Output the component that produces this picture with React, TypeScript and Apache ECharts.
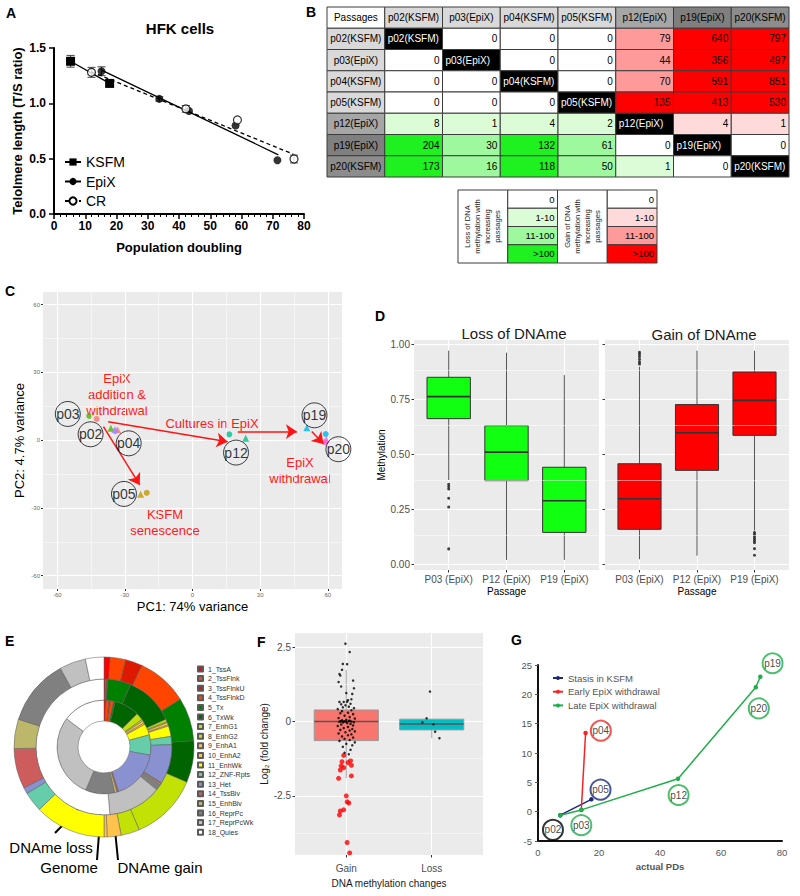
import React, { useEffect, useRef } from 'react';
import * as echarts from 'echarts';

const FONT = '"Liberation Sans", Arial, Helvetica, sans-serif';

// ===== Panel A: telomere length vs population doubling =====
const ksfmPoints = [[5.3, 1.38], [17.8, 1.18]];
const epixPoints = [[15.2, 1.29], [33.7, 1.04], [43.2, 0.93], [58.1, 0.8], [71.5, 0.485]];
const crPoints = [[12.0, 1.28], [42.2, 0.95], [58.7, 0.85], [76.8, 0.497]];
const epixFit = [[15.2, 1.3], [71.8, 0.535]];
const crFit = [[12.0, 1.285], [76.6, 0.54]];
const telomereErrors = [[5.3, 1.38, 0.053], [12.0, 1.28, 0.045], [15.2, 1.29, 0.04], [33.7, 1.04, 0.02], [42.2, 0.95, 0.03], [76.8, 0.497, 0.035]];

// ===== Panel B: DMR count table =====
const passages = ['p02(KSFM)', 'p03(EpiX)', 'p04(KSFM)', 'p05(KSFM)', 'p12(EpiX)', 'p19(EpiX)', 'p20(KSFM)'];
const dmrCounts: (number | null)[][] = [
  [null, 0, 0, 0, 79, 640, 797],
  [0, null, 0, 0, 44, 356, 497],
  [0, 0, null, 0, 70, 591, 851],
  [0, 0, 0, null, 135, 413, 530],
  [8, 1, 4, 2, null, 4, 1],
  [204, 30, 132, 61, 0, null, 0],
  [173, 16, 118, 50, 1, 0, null],
];
const binLabels = ['0', '1-10', '11-100', '>100'];
const lossLegendTitle = 'Loss of DNA\nmethylation with\nincreasing\npassages';
const gainLegendTitle = 'Gain of DNA\nmethylation with\nincreasing\npassages';

// ===== Panel C: PCA =====
const pcaCircles: [string, number, number][] = [
  ['p03', -45.8, 10.7], ['p02', -42.5, 9.4], ['p04', -34.3, 4.0], ['p05', -20.3, -23.3],
  ['p12', 16.3, 2.6], ['p19', 59.1, 2.7], ['p20', 58.8, -0.9],
];
const pcaTriangles: [string, number, number][] = [
  ['p02', -33.2, 4.6], ['p03', -36.2, 5.3], ['p04', -34.4, 4.7], ['p05', -23.0, -24.0],
  ['p12', 23.6, 0.8], ['p19', 50.7, 5.5], ['p20', 59.3, 0.3],
];
const pcaLabels: [string, number, number][] = [
  ['p03', -55.3, 11.6], ['p02', -45.2, 2.6], ['p04', -28.3, -1.4], ['p05', -30.4, -23.8],
  ['p12', 19.3, -5.5], ['p19', 54.1, 11.0], ['p20', 64.7, -4.0],
];
const pcaArrows = [
  [[-39.5, 6.0], [-23.4, -19.8]],
  [[-37.4, 8.2], [15.6, -0.7]],
  [[20.1, 3.8], [46.3, 3.8]],
  [[52.9, 3.8], [58.1, -1.7]],
];
const pcaTicks = [-60, -30, 0, 30, 60];
const pcaMinor = [-45, -15, 15, 45];

// ===== Panel D: methylation boxplots =====
const dLabels = ['P03 (EpiX)', 'P12 (EpiX)', 'P19 (EpiX)'];
const lossBoxes = [[1, 0.383, 0.662, 0.762, 0.85, 0.971], [2, 0.02, 0.38, 0.51, 0.63, 0.962], [3, 0.02, 0.145, 0.289, 0.441, 0.86]];
const lossOutliers = [[1, 0.364], [1, 0.353], [1, 0.342], [1, 0.3], [1, 0.26], [1, 0.07]];
const gainBoxes = [[1, 0.023, 0.159, 0.298, 0.457, 0.898], [2, 0.039, 0.427, 0.598, 0.726, 0.971], [3, 0.153, 0.586, 0.745, 0.874, 0.971]];
const gainOutliers = [[1, 0.964], [1, 0.955], [1, 0.944], [1, 0.932], [1, 0.92], [1, 0.91], [3, 0.144], [3, 0.135], [3, 0.125], [3, 0.116], [3, 0.107], [3, 0.098], [3, 0.071], [3, 0.041]];
const dTicks = [0, 0.25, 0.5, 0.75, 1];
const dMinor = [0.125, 0.375, 0.625, 0.875];

// ===== Panel E: chromatin states =====
const stateNames = ['1_TssA', '2_TssFlnk', '3_TssFlnkU', '4_TssFlnkD', '5_Tx', '6_TxWk', '7_EnhG1', '8_EnhG2', '9_EnhA1', '10_EnhA2', '11_EnhWk', '12_ZNF-Rpts', '13_Het', '14_TssBiv', '15_EnhBiv', '16_ReprPc', '17_ReprPcWk', '18_Quies'];
const gainShares = [4, 10, 11, 33, 28, 27, 44, 12, 9, 2, 46, 13, 4, 26, 19, 43, 17, 12];
const genomeShares = [1, 1, 0.5, 0.5, 20, 43, 2, 1, 2, 1, 9, 7, 34, 1, 1, 5, 46, 185];
const lossShares = [2.5, 4, 1.5, 4, 2, 31, 9, 2, 3, 2, 14, 25, 62, 2, 3, 36, 104, 53];

// ===== Panel F: fold change =====
const fLabels = ['Gain', 'Loss'];
const fBoxes = [[1, -1.9, -0.64, 0.0, 0.39, 1.74], [2, -0.56, -0.28, -0.08, 0.08, 0.08]];
const gainPoints = [
  [0.99, 2.62], [1.04, 2.34], [0.96, 1.94], [1.01, 1.93], [0.95, 1.74], [0.92, 1.6], [0.93, 1.55], [1.08, 1.38], [0.91, 1.33], [0.94, 1.18],
  [1.09, 1.12], [1.0, 0.96], [1.07, 0.93], [1.06, 0.75], [0.92, 0.66], [0.97, 0.66], [1.01, 0.67], [1.05, 0.6], [0.99, 0.55], [1.03, 0.5],
  [1.09, 0.45], [0.9, 0.42], [1.06, 0.38], [0.95, 0.35], [1.02, 0.3], [0.93, 0.28], [1.08, 0.25], [0.98, 0.2], [1.04, 0.15], [0.91, 0.12],
  [1.1, 0.1], [1.0, 0.06], [0.95, 0.04], [1.03, 0.02], [0.98, 0.01], [1.06, 0.0], [0.92, -0.01], [1.09, -0.02], [0.96, -0.03], [1.01, -0.05],
  [1.05, -0.08], [0.94, -0.1], [1.08, -0.13], [0.9, -0.15], [1.02, -0.18], [0.97, -0.22], [1.07, -0.25], [0.93, -0.28], [1.04, -0.3], [1.1, -0.33],
  [0.99, -0.36], [0.91, -0.4], [1.06, -0.43], [1.02, -0.46], [0.95, -0.5], [1.08, -0.54], [0.98, -0.58], [1.04, -0.62], [0.92, -0.65], [1.1, -0.7],
  [1.0, -0.75], [1.07, -0.8], [0.96, -0.85], [1.05, -0.95], [0.98, -1.05], [1.03, -1.1], [0.94, 0.02], [0.97, 0.0], [1.0, -0.01], [0.93, 0.01],
  [1.04, 0.03], [0.96, 0.48], [1.02, 0.72], [0.94, 0.58],
];
const gainStrong = [
  [0.97, -1.14], [0.95, -1.35], [0.94, -1.49], [0.97, -1.55], [0.93, -1.63], [1.02, -1.38], [1.05, -1.31], [1.06, -1.47], [1.06, -1.83],
  [0.91, -1.91], [1.0, -2.5], [1.01, -2.7], [1.03, -2.74], [0.97, -2.97], [0.93, -3.01], [0.92, -3.14], [1.01, -4.07], [1.04, -4.42],
];
const lossPoints = [[1.98, 1.01], [1.94, 0.11], [1.89, -0.03], [2.02, -0.09], [2.04, -0.34], [2.09, -0.56]];
const fTicks = [-2.5, 0, 2.5];
const fMinor = [-3.75, -1.25, 1.25];

// ===== Panel G: PD trajectories =====
const stasisKsfm = [[7.3, -0.6], [17.5, 2.1]];
const earlyWithdrawal = [[14.2, 0.3], [15.6, 13.4]];
const lateWithdrawal = [[7.3, -0.6], [14.2, 0.3], [45.9, 5.6], [71.4, 21.2], [72.9, 23.0]];
const gLabels: [string, number, number, string][] = [
  ['p02', 4.9, -3.1, 'start'], ['p03', 14.2, -2.3, 'late'], ['p04', 20.6, 13.8, 'early'], ['p05', 20.5, 3.75, 'stasis'],
  ['p12', 46.1, 2.84, 'late'], ['p19', 76.9, 25.3, 'late'], ['p20', 72.4, 17.6, 'late'],
];

// ===== styles =====
const passageColor: Record<string, string> = {
  p02: '#F8766D', p05: '#C49A00', p03: '#53B400', p12: '#00C094', p19: '#00B6EB', p04: '#A58AFF', p20: '#FB61D7',
};
const headerShades = ['#d9d9d9', '#d9d9d9', '#d9d9d9', '#d9d9d9', '#a6a6a6', '#7f7f7f', '#8c8c8c'];
const lossShades = ['#ffffff', '#dcfcd8', '#9ef89e', '#1ff01f'];
const gainShades = ['#ffffff', '#ffdada', '#ff9a9a', '#ff0000'];
const stateColors = ['#ff0000', '#ff4500', '#dd1a00', '#ff4500', '#008000', '#006400', '#c2e105', '#c2e105', '#ffc34d', '#ffc34d', '#ffff00', '#66cdaa', '#8a91d0', '#cd5c5c', '#bdb76b', '#808080', '#c0c0c0', '#ffffff'];
const gGroupColor: Record<string, string> = { start: '#000000', late: '#1fae48', early: '#f52525', stasis: '#1c2a7a' };

function bin(v: number) {
  if (v === 0) return 0;
  if (v <= 10) return 1;
  if (v <= 100) return 2;
  return 3;
}

type Cell = { col: number; row: number; text: string; fill: string; color: string; align: string; span?: number; rotate?: boolean };

function buildTableCells(): Cell[] {
  const cells: Cell[] = [];
  cells.push({ col: 0, row: 0, text: 'Passages', fill: '#ffffff', color: '#000', align: 'center' });
  passages.forEach((p, i) => {
    cells.push({ col: i + 1, row: 0, text: p, fill: headerShades[i], color: '#000', align: 'center' });
    cells.push({ col: 0, row: i + 1, text: p, fill: headerShades[i], color: '#000', align: 'center' });
  });
  dmrCounts.forEach((r, i) =>
    r.forEach((v, j) => {
      if (v === null) cells.push({ col: j + 1, row: i + 1, text: passages[i], fill: '#000000', color: '#ffffff', align: 'left' });
      else cells.push({ col: j + 1, row: i + 1, text: String(v), fill: (j > i ? gainShades : lossShades)[bin(v)], color: '#000', align: 'right' });
    })
  );
  return cells;
}

function buildLegendCells(): Cell[] {
  const cells: Cell[] = [];
  cells.push({ col: 0, row: 0, span: 4, rotate: true, text: lossLegendTitle, fill: '#fff', color: '#222', align: 'center' });
  cells.push({ col: 2, row: 0, span: 4, rotate: true, text: gainLegendTitle, fill: '#fff', color: '#222', align: 'center' });
  binLabels.forEach((b, r) => {
    cells.push({ col: 1, row: r, text: b, fill: lossShades[r], color: '#000', align: 'right' });
    cells.push({ col: 3, row: r, text: b, fill: gainShades[r], color: '#000', align: 'right' });
  });
  return cells;
}

function cellRenderer(cells: Cell[], fontSize: number) {
  return (params: any, api: any) => {
    const c = cells[params.dataIndex];
    const p = api.coord([c.col, c.row]);
    const s = api.size([1, 1]);
    const span = c.span || 1;
    const x0 = p[0] - s[0] / 2;
    const y0 = p[1] - s[1] / 2;
    const h = s[1] * span;
    const rect = { type: 'rect', shape: { x: x0, y: y0, width: s[0], height: h }, style: { fill: c.fill, stroke: '#3c3c3c', lineWidth: 1 } };
    if (c.rotate) {
      return {
        type: 'group',
        children: [
          rect,
          {
            type: 'text', x: p[0], y: y0 + h / 2, rotation: Math.PI / 2,
            style: { text: c.text, x: 0, y: 0, fill: c.color, fontSize: 7.6, lineHeight: 10, fontFamily: FONT, align: 'center', verticalAlign: 'middle', textAlign: 'center', textVerticalAlign: 'middle' },
          },
        ],
      };
    }
    const tx = c.align === 'left' ? x0 + 3 : c.align === 'right' ? x0 + s[0] - 3 : p[0];
    return {
      type: 'group',
      children: [
        rect,
        {
          type: 'text',
          style: { text: c.text, x: tx, y: p[1], fill: c.color, fontSize, fontFamily: FONT, align: c.align, verticalAlign: 'middle', textAlign: c.align, textVerticalAlign: 'middle' },
        },
      ],
    };
  };
}

function boxRenderer(fills: string[], stroke: string, whisker: string, medianColor: string, medianWidth: number) {
  return (params: any, api: any) => {
    const x = api.value(0);
    const lo = api.coord([x, api.value(1)]);
    const q1 = api.coord([x, api.value(2)]);
    const md = api.coord([x, api.value(3)]);
    const q3 = api.coord([x, api.value(4)]);
    const hi = api.coord([x, api.value(5)]);
    const w = api.size([0.75, 0])[0];
    const fill = fills[params.dataIndex % fills.length];
    return {
      type: 'group',
      children: [
        { type: 'line', shape: { x1: lo[0], y1: lo[1], x2: q1[0], y2: q1[1] }, style: { stroke: whisker, lineWidth: 1 } },
        { type: 'line', shape: { x1: q3[0], y1: q3[1], x2: hi[0], y2: hi[1] }, style: { stroke: whisker, lineWidth: 1 } },
        { type: 'rect', shape: { x: q3[0] - w / 2, y: q3[1], width: w, height: q1[1] - q3[1] }, style: { fill, stroke, lineWidth: 1 } },
        { type: 'line', shape: { x1: md[0] - w / 2, y1: md[1], x2: md[0] + w / 2, y2: md[1] }, style: { stroke: medianColor, lineWidth: medianWidth } },
      ],
    };
  };
}

function errRenderer(params: any, api: any) {
  const x = api.value(0), y = api.value(1), e = api.value(2);
  const top = api.coord([x, y + e]);
  const bot = api.coord([x, y - e]);
  const cw = 4;
  const st = { stroke: '#444', lineWidth: 1 };
  return {
    type: 'group',
    children: [
      { type: 'line', shape: { x1: top[0], y1: top[1], x2: bot[0], y2: bot[1] }, style: st },
      { type: 'line', shape: { x1: top[0] - cw, y1: top[1], x2: top[0] + cw, y2: top[1] }, style: st },
      { type: 'line', shape: { x1: bot[0] - cw, y1: bot[1], x2: bot[0] + cw, y2: bot[1] }, style: st },
    ],
  };
}

const GG_TEXT = '#4d4d4d';

function ggAxis(extra: any) {
  return {
    type: 'value',
    axisLine: { show: false, onZero: false },
    splitLine: { show: true, lineStyle: { color: '#ffffff', width: 1 } },
    ...extra,
  };
}

function text(t: string, x: number, y: number, o: any) {
  const align = o.align || 'center';
  const va = o.va || 'middle';
  return {
    type: 'text', x, y, silent: true,
    style: {
      text: t, fill: o.color || '#000', fontSize: o.size || 12, fontWeight: o.weight || 'normal', fontFamily: FONT,
      lineHeight: o.lineHeight, align, verticalAlign: va, textAlign: align, textVerticalAlign: va,
    },
  };
}

function gline(x1: number, y1: number, x2: number, y2: number) {
  return { type: 'line', silent: true, shape: { x1, y1, x2, y2 }, style: { stroke: '#000', lineWidth: 2 } };
}

function buildOption() {
  const tableCells = buildTableCells();
  const legendCells = buildLegendCells();
  const tableCats = ['Passages', ...passages];
  const noBounds = { outerBoundsMode: 'none', containLabel: false };

  const grids = [
    { left: 54, top: 48, width: 250, height: 166, ...noBounds },
    { left: 327, top: 7, width: 462, height: 170, ...noBounds },
    { left: 458, top: 190, width: 199, height: 73, ...noBounds },
    { left: 43, top: 292, width: 299, height: 297, show: true, backgroundColor: '#ebebeb', borderWidth: 0, ...noBounds },
    { left: 414, top: 340, width: 185, height: 230, show: true, backgroundColor: '#ebebeb', borderWidth: 0, ...noBounds },
    { left: 605, top: 340, width: 184, height: 230, show: true, backgroundColor: '#ebebeb', borderWidth: 0, ...noBounds },
    { left: 295, top: 633, width: 188, height: 222, show: true, backgroundColor: '#ebebeb', borderWidth: 0, ...noBounds },
    { left: 538, top: 665, width: 244, height: 176, ...noBounds },
  ];

  const dXAxis = (gi: number) =>
    ggAxis({
      gridIndex: gi, min: 0.4, max: 3.6, minInterval: 1, maxInterval: 1,
      axisTick: { show: true, length: 2.5, customValues: [1, 2, 3], lineStyle: { color: '#333' } },
      axisLabel: { customValues: [1, 2, 3], formatter: (v: number) => dLabels[Math.round(v) - 1] ?? '', fontSize: 10, color: GG_TEXT, margin: 4 },
      name: 'Passage', nameLocation: 'middle', nameGap: 16, nameTextStyle: { fontSize: 10, color: '#000' },
    });
  const dYAxis = (gi: number, labels: boolean) =>
    ggAxis({
      gridIndex: gi, min: -0.026, max: 1.0195, minInterval: 0.25, maxInterval: 0.25,
      axisTick: { show: true, length: 2.5, customValues: dTicks, lineStyle: { color: '#333' } },
      axisLabel: { show: labels, customValues: dTicks, formatter: (v: number) => v.toFixed(2), fontSize: 10, color: GG_TEXT, margin: 4 },
      name: labels ? 'Methylation' : '', nameLocation: 'middle', nameGap: 27, nameRotate: 90, nameTextStyle: { fontSize: 10, color: '#000' },
    });

  const xAxis = [
    {
      gridIndex: 0, type: 'value', min: 0, max: 80, interval: 10, splitLine: { show: false },
      axisLine: { show: true, onZero: false, lineStyle: { color: '#000', width: 2 } },
      axisTick: { show: true, length: 5, lineStyle: { color: '#000', width: 1.5 } },
      minorTick: { show: true, splitNumber: 5, length: 3, lineStyle: { color: '#000', width: 1 } },
      axisLabel: { color: '#000', fontWeight: 'bold', fontSize: 12, margin: 6 },
      name: 'Population doubling', nameLocation: 'middle', nameGap: 27,
      nameTextStyle: { fontWeight: 'bold', fontSize: 13, color: '#000' },
    },
    { gridIndex: 1, type: 'category', data: tableCats, show: false },
    { gridIndex: 2, type: 'category', data: ['lossTitle', 'loss', 'gainTitle', 'gain'], show: false },
    ggAxis({
      gridIndex: 3, min: -66.3, max: 66.3, minInterval: 30, maxInterval: 30,
      axisTick: { show: true, length: 2, customValues: pcaTicks, lineStyle: { color: '#333' } },
      axisLabel: { customValues: pcaTicks, fontSize: 6, color: '#666', margin: 3 },
      name: 'PC1: 74% variance', nameLocation: 'middle', nameGap: 11, nameTextStyle: { fontSize: 13, color: '#000' },
    }),
    dXAxis(4),
    dXAxis(5),
    ggAxis({
      gridIndex: 6, min: 0.4, max: 2.6, minInterval: 1, maxInterval: 1,
      axisTick: { show: true, length: 2.5, customValues: [1, 2], lineStyle: { color: '#333' } },
      axisLabel: { customValues: [1, 2], formatter: (v: number) => fLabels[Math.round(v) - 1] ?? '', fontSize: 10, color: GG_TEXT, margin: 8 },
      name: 'DNA methylation changes', nameLocation: 'middle', nameGap: 23, nameTextStyle: { fontSize: 10, color: '#1a1a1a' },
    }),
    {
      gridIndex: 7, type: 'value', min: 0, max: 80, interval: 20, splitLine: { show: false },
      axisLine: { show: true, onZero: false, lineStyle: { color: '#111', width: 2 } },
      axisTick: { show: false },
      axisLabel: { color: '#555', fontSize: 9.5, margin: 6 },
      name: 'actual PDs', nameLocation: 'middle', nameGap: 20, nameTextStyle: { fontWeight: 'bold', fontSize: 9.5, color: '#555' },
    },
  ];

  const yAxis = [
    {
      gridIndex: 0, type: 'value', min: 0, max: 1.5, interval: 0.5, splitLine: { show: false },
      axisLine: { show: true, onZero: false, lineStyle: { color: '#000', width: 2 } },
      axisTick: { show: true, length: 5, lineStyle: { color: '#000', width: 1.5 } },
      axisLabel: { formatter: (v: number) => v.toFixed(1), color: '#000', fontWeight: 'bold', fontSize: 12, margin: 8 },
      name: 'Telolmere length (T/S ratio)', nameLocation: 'middle', nameGap: 30, nameRotate: 90,
      nameTextStyle: { fontWeight: 'bold', fontSize: 13, color: '#000' },
    },
    { gridIndex: 1, type: 'category', data: tableCats, inverse: true, show: false },
    { gridIndex: 2, type: 'category', data: binLabels, inverse: true, show: false },
    ggAxis({
      gridIndex: 3, min: -65.9, max: 65.6, minInterval: 30, maxInterval: 30,
      axisTick: { show: true, length: 2, customValues: pcaTicks, lineStyle: { color: '#333' } },
      axisLabel: { customValues: pcaTicks, fontSize: 6, color: '#666', margin: 3 },
      name: 'PC2: 4.7% variance', nameLocation: 'middle', nameGap: 17, nameRotate: 90, nameTextStyle: { fontSize: 13, color: '#000' },
    }),
    dYAxis(4, true),
    dYAxis(5, false),
    ggAxis({
      gridIndex: 6, min: -4.49, max: 2.98, minInterval: 2.5, maxInterval: 2.5,
      axisTick: { show: true, length: 2.5, customValues: fTicks, lineStyle: { color: '#333' } },
      axisLabel: { customValues: fTicks, formatter: (v: number) => (v === 0 ? '0' : String(v)), fontSize: 10, color: GG_TEXT, margin: 4 },
      name: 'Log\u2082 (fold change)', nameLocation: 'middle', nameGap: 17, nameRotate: 90, nameTextStyle: { fontSize: 10, color: '#1a1a1a' },
    }),
    {
      gridIndex: 7, type: 'value', min: -5, max: 25, interval: 5, splitLine: { show: false },
      axisLine: { show: true, onZero: false, lineStyle: { color: '#111', width: 2 } },
      axisTick: { show: true, length: 3, lineStyle: { color: '#555' } },
      axisLabel: { color: '#555', fontSize: 9.5, margin: 6 },
    },
  ];

  const minorLines = (xi: number, xs: number[], ys: number[]) => ({
    type: 'line', xAxisIndex: xi, yAxisIndex: xi, data: [], silent: true, z: 1,
    markLine: {
      silent: true, symbol: 'none', animation: false, label: { show: false },
      lineStyle: { color: '#ffffff', width: 0.5, type: 'solid' },
      emphasis: { disabled: true },
      data: [...xs.map((v) => ({ xAxis: v })), ...ys.map((v) => ({ yAxis: v }))],
    },
  });

  const pieBase = {
    type: 'pie', center: [104, 747], startAngle: 90, clockwise: true, silent: true,
    label: { show: false }, labelLine: { show: false }, emphasis: { disabled: true },
    avoidLabelOverlap: false, itemStyle: { borderColor: '#5a5a5a', borderWidth: 0.5 },
  };
  const pieData = (shares: number[]) => stateNames.map((n, i) => ({ name: n, value: shares[i], itemStyle: { color: stateColors[i] } }));

  const series: any[] = [
    // ---- A
    { type: 'custom', name: 'errorbars', xAxisIndex: 0, yAxisIndex: 0, data: telomereErrors, renderItem: errRenderer, z: 1, silent: true },
    {
      type: 'line', name: 'KSFM', xAxisIndex: 0, yAxisIndex: 0, data: ksfmPoints, symbol: 'rect', symbolSize: 9,
      itemStyle: { color: '#000' }, lineStyle: { color: '#000', width: 1.3 }, z: 3,
    },
    {
      type: 'line', name: 'EpiX', xAxisIndex: 0, yAxisIndex: 0, data: epixFit.map((v) => ({ value: v, symbol: 'none' })),
      symbol: 'circle', symbolSize: 8, itemStyle: { color: '#000' }, lineStyle: { color: '#000', width: 1.3 }, z: 2,
    },
    {
      type: 'line', name: 'CR', xAxisIndex: 0, yAxisIndex: 0, data: crFit.map((v) => ({ value: v, symbol: 'none' })),
      symbol: 'emptyCircle', symbolSize: 8, itemStyle: { color: '#000' }, lineStyle: { color: '#000', width: 1.3, type: [4, 3] }, z: 2,
    },
    { type: 'scatter', name: 'EpiX points', xAxisIndex: 0, yAxisIndex: 0, data: epixPoints, symbol: 'circle', symbolSize: 8, itemStyle: { color: '#000' }, z: 4 },
    {
      type: 'scatter', name: 'CR points', xAxisIndex: 0, yAxisIndex: 0, data: crPoints, symbol: 'circle', symbolSize: 8,
      itemStyle: { color: '#ffffff', borderColor: '#000', borderWidth: 1.2 }, z: 4,
    },
    // ---- B
    { type: 'custom', name: 'table', xAxisIndex: 1, yAxisIndex: 1, data: tableCells.map((c) => [c.col, c.row]), renderItem: cellRenderer(tableCells, 10), silent: true },
    { type: 'custom', name: 'tableLegend', xAxisIndex: 2, yAxisIndex: 2, data: legendCells.map((c) => [c.col, c.row]), renderItem: cellRenderer(legendCells, 9.5), silent: true },
    // ---- C
    minorLines(3, pcaMinor, pcaMinor),
    {
      type: 'scatter', name: 'pca circles', xAxisIndex: 3, yAxisIndex: 3, symbol: 'circle', symbolSize: 6, z: 3,
      data: pcaCircles.map((p) => ({ value: [p[1], p[2]], itemStyle: { color: passageColor[p[0]] } })),
    },
    {
      type: 'scatter', name: 'pca triangles', xAxisIndex: 3, yAxisIndex: 3, symbol: 'triangle', symbolSize: 7, z: 3,
      data: pcaTriangles.map((p) => ({ value: [p[1], p[2]], itemStyle: { color: passageColor[p[0]] } })),
    },
    {
      type: 'line', name: 'pca arrows', xAxisIndex: 3, yAxisIndex: 3, data: [], silent: true, z: 4,
      markLine: {
        silent: true, symbol: ['none', 'arrow'], symbolSize: 11, animation: false, label: { show: false },
        emphasis: { disabled: true },
        itemStyle: { color: '#ff1414' },
        lineStyle: { color: '#ff1414', width: 1.5, type: 'solid' },
        data: pcaArrows.map((a) => [{ coord: a[0] }, { coord: a[1] }]),
      },
    },
    {
      type: 'scatter', name: 'pca labels', xAxisIndex: 3, yAxisIndex: 3, symbol: 'circle', symbolSize: 25, z: 5, clip: false,
      itemStyle: { color: 'rgba(0,0,0,0)', borderColor: '#111', borderWidth: 1 },
      label: { show: true, position: 'inside', formatter: '{b}', fontSize: 14, color: '#000' },
      data: pcaLabels.map((p) => ({ name: p[0], value: [p[1], p[2]] })),
    },
    // ---- D
    minorLines(4, [], dMinor),
    minorLines(5, [], dMinor),
    { type: 'custom', name: 'loss boxes', xAxisIndex: 4, yAxisIndex: 4, data: lossBoxes, renderItem: boxRenderer(['#11ff11'], '#333', '#555', '#333', 1.6), z: 3, silent: true },
    { type: 'scatter', name: 'loss outliers', xAxisIndex: 4, yAxisIndex: 4, data: lossOutliers, symbolSize: 3, itemStyle: { color: '#111' }, z: 4 },
    { type: 'custom', name: 'gain boxes', xAxisIndex: 5, yAxisIndex: 5, data: gainBoxes, renderItem: boxRenderer(['#ff0000'], '#333', '#555', '#333', 1.6), z: 3, silent: true },
    { type: 'scatter', name: 'gain outliers', xAxisIndex: 5, yAxisIndex: 5, data: gainOutliers, symbolSize: 3, itemStyle: { color: '#111' }, z: 4 },
    // ---- E
    { ...pieBase, name: 'DNAme loss', radius: [26, 47], data: pieData(lossShares) },
    { ...pieBase, name: 'Genome', radius: [47, 68], data: pieData(genomeShares) },
    { ...pieBase, name: 'DNAme gain', radius: [68, 90], data: pieData(gainShares) },
    // ---- F
    minorLines(6, [], fMinor),
    { type: 'custom', name: 'f boxes', xAxisIndex: 6, yAxisIndex: 6, data: fBoxes, renderItem: boxRenderer(['#f8766d', '#00bfc4'], '#9a9a9a', '#a8a8a8', '#555', 1.5), z: 2, silent: true },
    { type: 'scatter', name: 'gain strong', xAxisIndex: 6, yAxisIndex: 6, data: gainStrong, symbolSize: 5, itemStyle: { color: '#ff0000' }, z: 3 },
    { type: 'scatter', name: 'gain pts', xAxisIndex: 6, yAxisIndex: 6, data: gainPoints, symbolSize: 2.5, itemStyle: { color: '#000' }, z: 4 },
    { type: 'scatter', name: 'loss pts', xAxisIndex: 6, yAxisIndex: 6, data: lossPoints, symbolSize: 2.5, itemStyle: { color: '#000' }, z: 4 },
    // ---- G
    {
      type: 'line', name: 'Stasis in KSFM', xAxisIndex: 7, yAxisIndex: 7, data: stasisKsfm, symbol: 'circle', symbolSize: 4.5,
      itemStyle: { color: gGroupColor.stasis }, lineStyle: { color: gGroupColor.stasis, width: 1.5 }, z: 3,
    },
    {
      type: 'line', name: 'Early EpiX withdrawal', xAxisIndex: 7, yAxisIndex: 7, data: earlyWithdrawal, symbol: 'circle', symbolSize: 4.5,
      itemStyle: { color: gGroupColor.early }, lineStyle: { color: gGroupColor.early, width: 1.5 }, z: 3,
    },
    {
      type: 'line', name: 'Late EpiX withdrawal', xAxisIndex: 7, yAxisIndex: 7, data: lateWithdrawal, symbol: 'circle', symbolSize: 4.5,
      itemStyle: { color: gGroupColor.late }, lineStyle: { color: gGroupColor.late, width: 1.5 }, z: 3,
    },
    {
      type: 'scatter', name: 'g labels', xAxisIndex: 7, yAxisIndex: 7, symbol: 'circle', symbolSize: 20, z: 5, clip: false,
      label: { show: true, position: 'inside', formatter: '{b}', fontSize: 10, color: '#111' },
      data: gLabels.map((g) => ({ name: g[0], value: [g[1], g[2]], itemStyle: { color: 'rgba(0,0,0,0)', borderColor: gGroupColor[g[3]], borderWidth: 2 } })),
    },
  ];

  const legend = [
    {
      data: ['KSFM', 'EpiX', 'CR'], orient: 'vertical', left: 64, top: 155, itemWidth: 16, itemHeight: 9, itemGap: 5.5, padding: 0,
      selectedMode: false, textStyle: { fontSize: 14, color: '#000', lineHeight: 14 },
    },
    {
      data: stateNames, orient: 'vertical', left: 197, top: 665, itemWidth: 5, itemHeight: 5, itemGap: 1.6, padding: 0, icon: 'rect',
      selectedMode: false, textStyle: { fontSize: 7, color: '#333', lineHeight: 8 },
    },
    {
      data: ['Stasis in KSFM', 'Early EpiX withdrawal', 'Late EpiX withdrawal'], orient: 'vertical', left: 552, top: 672,
      itemWidth: 10, itemHeight: 5, itemGap: 1.7, padding: 0, selectedMode: false, textStyle: { fontSize: 9.5, color: '#555', lineHeight: 12 },
    },
  ];

  const red = '#ff1a1a';
  const graphic = [
    text('A', 6, 6, { size: 14, weight: 'bold', align: 'left', va: 'top' }),
    text('B', 306, 5, { size: 14, weight: 'bold', align: 'left', va: 'top' }),
    text('C', 5, 284, { size: 14, weight: 'bold', align: 'left', va: 'top' }),
    text('D', 375, 309, { size: 14, weight: 'bold', align: 'left', va: 'top' }),
    text('E', 5, 634, { size: 14, weight: 'bold', align: 'left', va: 'top' }),
    text('F', 257, 635, { size: 14, weight: 'bold', align: 'left', va: 'top' }),
    text('G', 511, 633, { size: 14, weight: 'bold', align: 'left', va: 'top' }),
    text('HFK cells', 180, 28, { size: 15, weight: 'bold' }),
    text('EpiX\naddition &\nwithdrawal', 117, 394, { size: 13, color: red, lineHeight: 16 }),
    text('Cultures in EpiX', 212, 423, { size: 13, color: red }),
    text('EpiX\nwithdrawal', 300, 470, { size: 13, color: red, lineHeight: 16 }),
    text('KSFM\nsenescence', 165, 522, { size: 13, color: red, lineHeight: 16 }),
    text('Loss of DNAme', 514, 333, { size: 15, color: '#1a1a1a' }),
    text('Gain of DNAme', 704, 334, { size: 15, color: '#1a1a1a' }),
    gline(55, 833, 98, 789),
    gline(97, 860, 101, 808),
    gline(118, 860, 115, 830),
    text('DNAme loss', 51, 847, { size: 15 }),
    text('Genome', 69, 867, { size: 15 }),
    text('DNAme gain', 160, 867, { size: 15 }),
  ];

  return {
    animation: false,
    backgroundColor: '#ffffff',
    textStyle: { fontFamily: FONT },
    grid: grids,
    xAxis,
    yAxis,
    legend,
    series,
    graphic,
  };
}

export default function App() {
  const ref = useRef<HTMLDivElement>(null);
  useEffect(() => {
    if (!ref.current) return;
    const chart = echarts.init(ref.current, null, { renderer: 'svg' });
    chart.setOption(buildOption() as any);
    return () => chart.dispose();
  }, []);
  return <div ref={ref} style={{ position: 'absolute', left: 0, top: 0, width: 800, height: 896, background: '#fff' }} />;
}
